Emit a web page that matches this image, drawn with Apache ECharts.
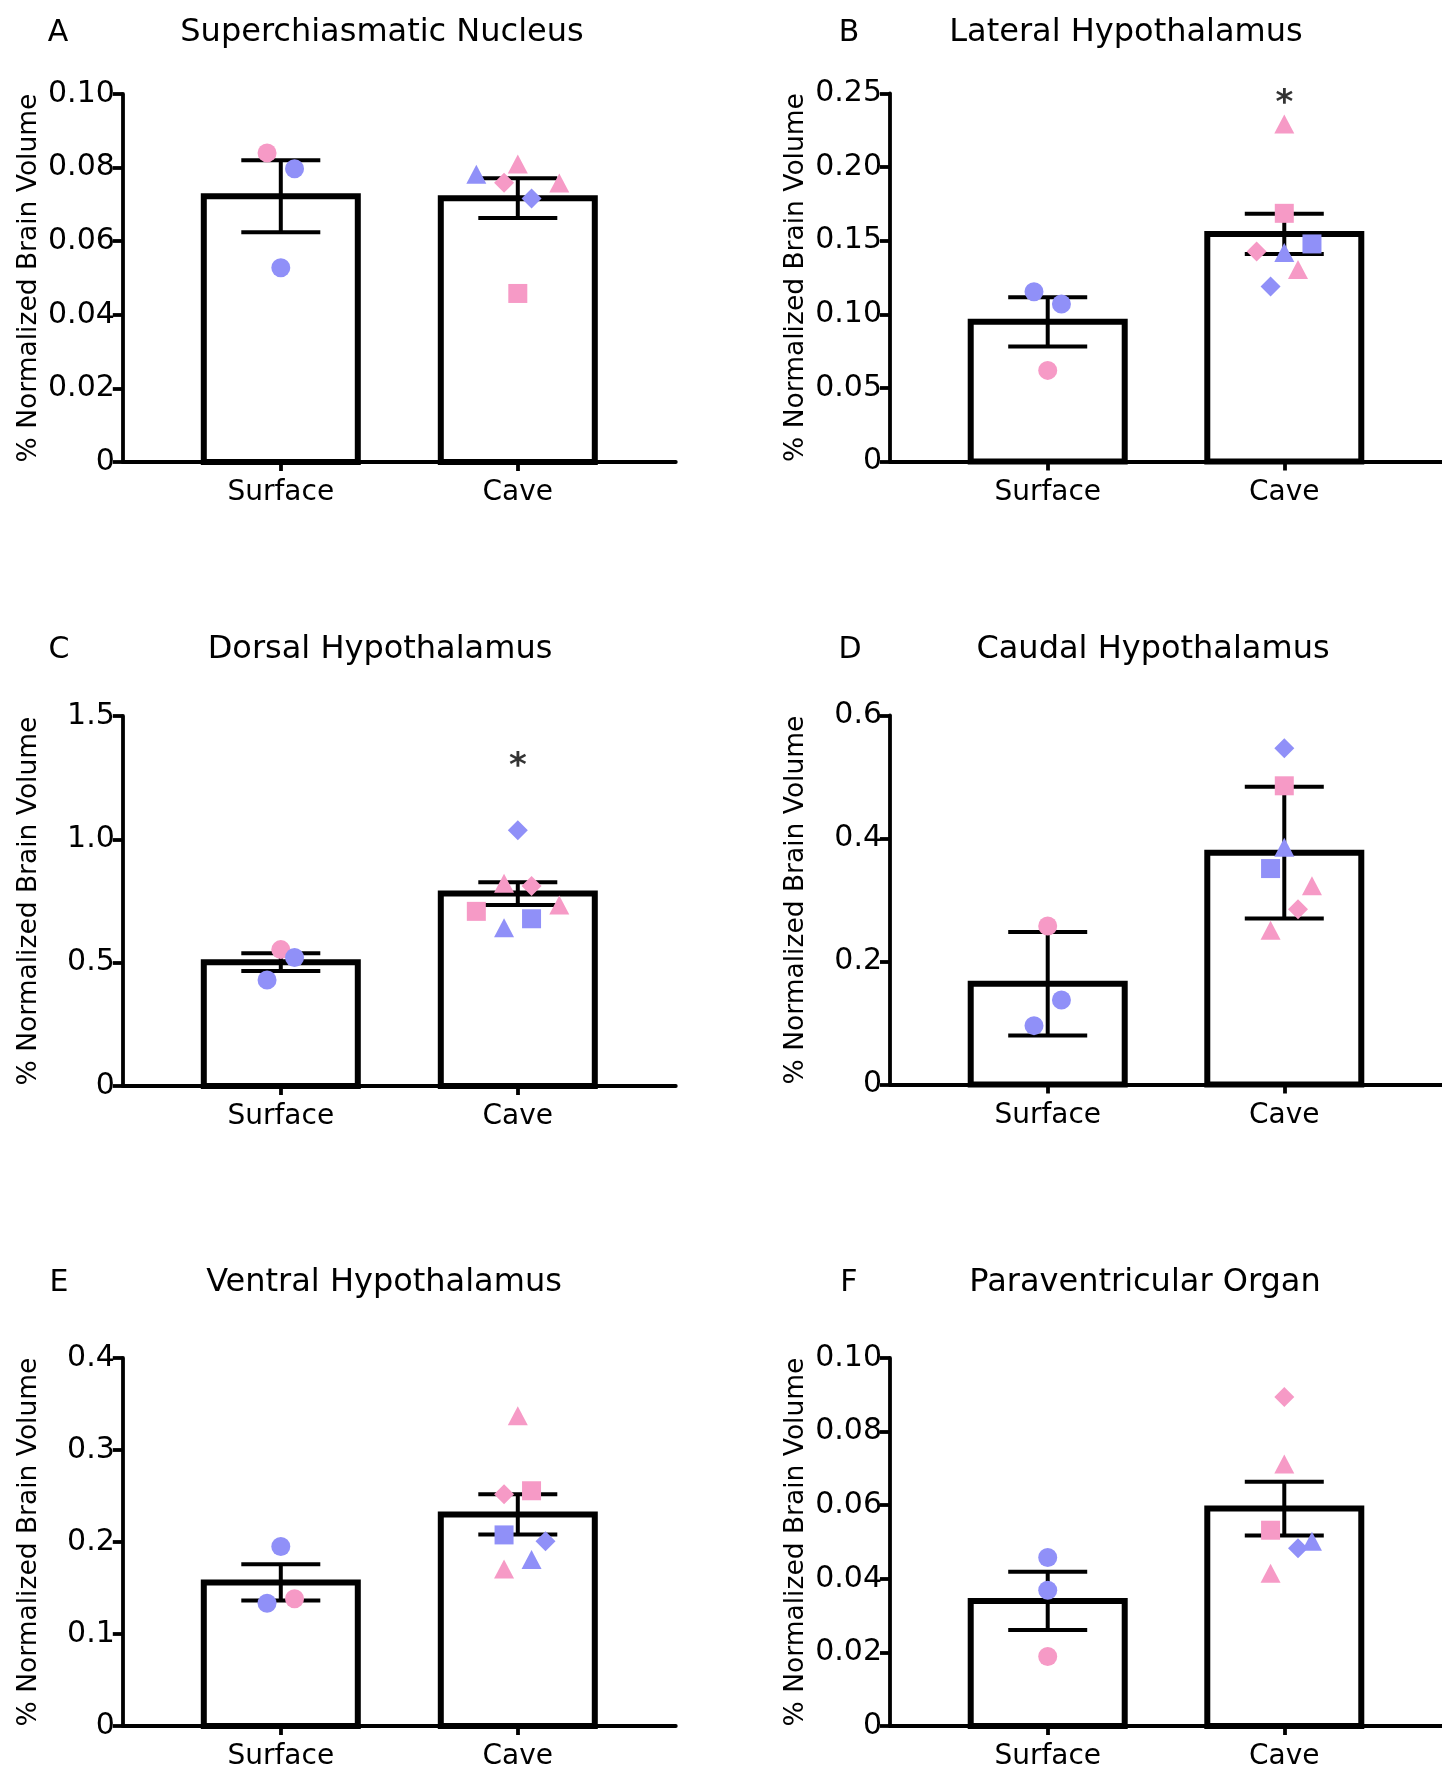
<!DOCTYPE html>
<html>
<head>
<meta charset="UTF-8">
<title>Brain region volumes</title>
<style>
    html, body { margin: 0; padding: 0; background: #fff; }
    #chart { width: 1442px; height: 1771px; }
</style>
</head>
<body>
<div id="chart"></div>
<script src="https://cdn.jsdelivr.net/npm/echarts@6/dist/echarts.min.js"></script>
<script>
    var categories = ['Surface', 'Cave'];
    var letters = ['A', 'B', 'C', 'D', 'E', 'F'];
    var titles = ['Superchiasmatic Nucleus', 'Lateral Hypothalamus', 'Dorsal Hypothalamus',
                  'Caudal Hypothalamus', 'Ventral Hypothalamus', 'Paraventricular Organ'];
    var yMax = [0.10, 0.25, 1.5, 0.6, 0.4, 0.10];
    var yStep = [0.02, 0.05, 0.5, 0.2, 0.1, 0.02];
    var yDigits = [2, 2, 1, 1, 1, 2];

    // group mean and error bar (mean +/- err)
    var meanA = [0.0722, 0.0717], errA = [0.0098, 0.0054];
    var meanB = [0.0949, 0.1546], errB = [0.0167, 0.0137];
    var meanC = [0.502, 0.780], errC = [0.036, 0.046];
    var meanD = [0.1637, 0.3769], errD = [0.0842, 0.1071];
    var meanE = [0.1560, 0.2300], errE = [0.0197, 0.0218];
    var meanF = [0.0340, 0.0591], errF = [0.0079, 0.0073];

    // single fish: [group, value, jitter, symbol, colour]
    var ptsA = [
        [0, 0.0840, -0.058, 'circle', 'p'], [0, 0.0797, 0.058, 'circle', 'b'], [0, 0.0528, 0, 'circle', 'b'],
        [1, 0.0782, -0.175, 'triangle', 'b'], [1, 0.0810, 0, 'triangle', 'p'], [1, 0.0759, -0.058, 'diamond', 'p'],
        [1, 0.0758, 0.175, 'triangle', 'p'], [1, 0.0716, 0.058, 'diamond', 'b'], [1, 0.0458, 0, 'rect', 'p']
    ];
    var ptsB = [
        [0, 0.1153, -0.058, 'circle', 'b'], [0, 0.1070, 0.058, 'circle', 'b'], [0, 0.0619, 0, 'circle', 'p'],
        [1, 0.2293, 0, 'triangle', 'p'], [1, 0.1686, 0, 'rect', 'p'], [1, 0.1478, 0.117, 'rect', 'b'],
        [1, 0.1427, -0.117, 'diamond', 'p'], [1, 0.1420, 0, 'triangle', 'b'], [1, 0.1304, 0.058, 'triangle', 'p'],
        [1, 0.1189, -0.058, 'diamond', 'b']
    ];
    var ptsC = [
        [0, 0.553, 0, 'circle', 'p'], [0, 0.521, 0.058, 'circle', 'b'], [0, 0.430, -0.058, 'circle', 'b'],
        [1, 1.037, 0, 'diamond', 'b'], [1, 0.822, -0.058, 'triangle', 'p'], [1, 0.811, 0.058, 'diamond', 'p'],
        [1, 0.708, -0.175, 'rect', 'p'], [1, 0.734, 0.175, 'triangle', 'p'], [1, 0.678, 0.058, 'rect', 'b'],
        [1, 0.642, -0.058, 'triangle', 'b']
    ];
    var ptsD = [
        [0, 0.2576, 0, 'circle', 'p'], [0, 0.1375, 0.058, 'circle', 'b'], [0, 0.0957, -0.058, 'circle', 'b'],
        [1, 0.5466, 0, 'diamond', 'b'], [1, 0.4857, 0, 'rect', 'p'], [1, 0.3859, 0, 'triangle', 'b'],
        [1, 0.3511, -0.058, 'rect', 'b'], [1, 0.3232, 0.117, 'triangle', 'p'], [1, 0.2849, 0.058, 'diamond', 'p'],
        [1, 0.2507, -0.058, 'triangle', 'p']
    ];
    var ptsE = [
        [0, 0.1951, 0, 'circle', 'b'], [0, 0.1335, -0.058, 'circle', 'b'], [0, 0.1383, 0.058, 'circle', 'p'],
        [1, 0.3372, 0, 'triangle', 'p'], [1, 0.2557, 0.058, 'rect', 'p'], [1, 0.2520, -0.058, 'diamond', 'p'],
        [1, 0.2077, -0.058, 'rect', 'b'], [1, 0.2007, 0.117, 'diamond', 'b'], [1, 0.1811, 0.058, 'triangle', 'b'],
        [1, 0.1706, -0.058, 'triangle', 'p']
    ];
    var ptsF = [
        [0, 0.0458, 0, 'circle', 'b'], [0, 0.0369, 0, 'circle', 'b'], [0, 0.0189, 0, 'circle', 'p'],
        [1, 0.0894, 0, 'diamond', 'p'], [1, 0.0712, 0, 'triangle', 'p'], [1, 0.0532, -0.058, 'rect', 'p'],
        [1, 0.0483, 0.058, 'diamond', 'b'], [1, 0.0502, 0.117, 'triangle', 'b'], [1, 0.0415, -0.058, 'triangle', 'p']
    ];

    // significance stars above the cave group (null = none)
    var starY = [null, 0.2477, 1.322, 0.6016, null, null];

    var means = [meanA, meanB, meanC, meanD, meanE, meanF];
    var errs = [errA, errB, errC, errD, errE, errF];
    var points = [ptsA, ptsB, ptsC, ptsD, ptsE, ptsF];

    // layout
    var grids = [
        {left: 122.8, top: 94, width: 553, height: 368},
        {left: 890, top: 93.5, width: 552, height: 368},
        {left: 122.8, top: 716, width: 553, height: 370},
        {left: 890, top: 715.5, width: 552, height: 369},
        {left: 122.8, top: 1358, width: 553, height: 369.5},
        {left: 890, top: 1358, width: 552, height: 369.5}
    ];
    var titleX = [382, 1126, 380, 1153, 384, 1145];
    var titleY = [33, 33, 650, 650, 1283, 1283];
    var letterX = [58, 849, 59, 850, 59, 849];

    var FONT = '"DejaVu Sans", sans-serif';
    var colors = {p: '#F69AC6', b: '#9090F8'};
    var symSize = {circle: 19, rect: 19, triangle: [20, 19], diamond: 20};
    var BAR_W = 154;   // rect width, outer width = BAR_W + border
    var BAR_BORDER = 6;
    var CAP_HALF = 39.5;

    var xAxes = [], yAxes = [], series = [], graphics = [];

    for (var i = 0; i < 6; i++) {
        (function (i) {
            xAxes.push({
                gridIndex: i, type: 'value', min: -2 / 3, max: 5 / 3,
                axisLine: {show: true, onZero: false, lineStyle: {color: '#000', width: 3.8}},
                axisTick: {show: true, customValues: [0, 1], length: 9, lineStyle: {color: '#000', width: 3.8}},
                axisLabel: {
                    show: true, customValues: [0, 1], margin: 17,
                    fontFamily: FONT, fontSize: 28, color: '#000',
                    formatter: function (v) { return categories[Math.round(v)]; }
                },
                splitLine: {show: false}
            });
            yAxes.push({
                gridIndex: i, type: 'value', min: 0, max: yMax[i], interval: yStep[i],
                name: '% Normalized Brain Volume', nameLocation: 'middle', nameRotate: 90, nameGap: 80,
                nameTextStyle: {fontFamily: FONT, fontSize: 26.5, color: '#000'},
                axisLine: {show: true, onZero: false, lineStyle: {color: '#000', width: 3.8}},
                axisTick: {show: true, length: 10, lineStyle: {color: '#000', width: 3.8}},
                axisLabel: {
                    margin: 8, fontFamily: FONT, fontSize: 30, color: '#000',
                    formatter: function (v) { return v === 0 ? '0' : v.toFixed(yDigits[i]); }
                },
                splitLine: {show: false}
            });

            // bars: white fill, thick black outline centred on the mean
            series.push({
                type: 'custom', xAxisIndex: i, yAxisIndex: i, z: 2, silent: true,
                encode: {x: 0, y: 1},
                data: means[i].map(function (m, g) { return [g, m]; }),
                renderItem: function (params, api) {
                    var top = api.coord([api.value(0), api.value(1)]);
                    var base = api.coord([api.value(0), 0]);
                    return {
                        type: 'rect',
                        shape: {x: top[0] - BAR_W / 2, y: top[1], width: BAR_W, height: base[1] - top[1]},
                        style: {fill: '#fff', stroke: '#000', lineWidth: BAR_BORDER}
                    };
                }
            });

            series.push({
                type: 'custom', xAxisIndex: i, yAxisIndex: i, z: 3, silent: true,
                encode: {x: 0, y: 1},
                data: means[i].map(function (m, g) { return [g, m, errs[i][g]]; }),
                renderItem: function (params, api) {
                    var x = api.value(0), m = api.value(1), e = api.value(2);
                    var hi = api.coord([x, m + e]);
                    var lo = api.coord([x, m - e]);
                    var st = {stroke: '#000', lineWidth: 4};
                    return {
                        type: 'group',
                        children: [
                            {type: 'line', shape: {x1: hi[0], y1: hi[1], x2: lo[0], y2: lo[1]}, style: st},
                            {type: 'line', shape: {x1: hi[0] - CAP_HALF, y1: hi[1], x2: hi[0] + CAP_HALF, y2: hi[1]}, style: st},
                            {type: 'line', shape: {x1: lo[0] - CAP_HALF, y1: lo[1], x2: lo[0] + CAP_HALF, y2: lo[1]}, style: st}
                        ]
                    };
                }
            });

            series.push({
                type: 'scatter', xAxisIndex: i, yAxisIndex: i, z: 4, silent: true,
                data: points[i].map(function (p) {
                    return {
                        value: [p[0] + p[2], p[1]],
                        symbol: p[3],
                        symbolSize: symSize[p[3]],
                        itemStyle: {color: colors[p[4]], opacity: 1}
                    };
                })
            });

            if (starY[i] !== null) {
                series.push({
                    type: 'scatter', xAxisIndex: i, yAxisIndex: i, z: 5, silent: true,
                    symbolSize: 1, itemStyle: {color: 'rgba(0,0,0,0)'},
                    data: [[1, starY[i]]],
                    label: {
                        show: true, position: 'inside', formatter: '*', offset: [0, 7],
                        fontFamily: FONT, fontSize: 34, fontWeight: 'bold', color: '#000'
                    }
                });
            }

            graphics.push({
                type: 'text', x: titleX[i], y: titleY[i],
                style: {text: titles[i], font: '32px ' + FONT, fill: '#000', textAlign: 'center', textVerticalAlign: 'middle'}
            });
            graphics.push({
                type: 'text', x: letterX[i], y: titleY[i],
                style: {text: letters[i], font: '30px ' + FONT, fill: '#000', textAlign: 'center', textVerticalAlign: 'middle'}
            });
        })(i);
    }

    var chart = echarts.init(document.getElementById('chart'), null, {renderer: 'canvas'});
    chart.setOption({
        backgroundColor: '#fff',
        animation: false,
        grid: grids,
        xAxis: xAxes,
        yAxis: yAxes,
        series: series,
        graphic: graphics
    });
</script>
</body>
</html>
